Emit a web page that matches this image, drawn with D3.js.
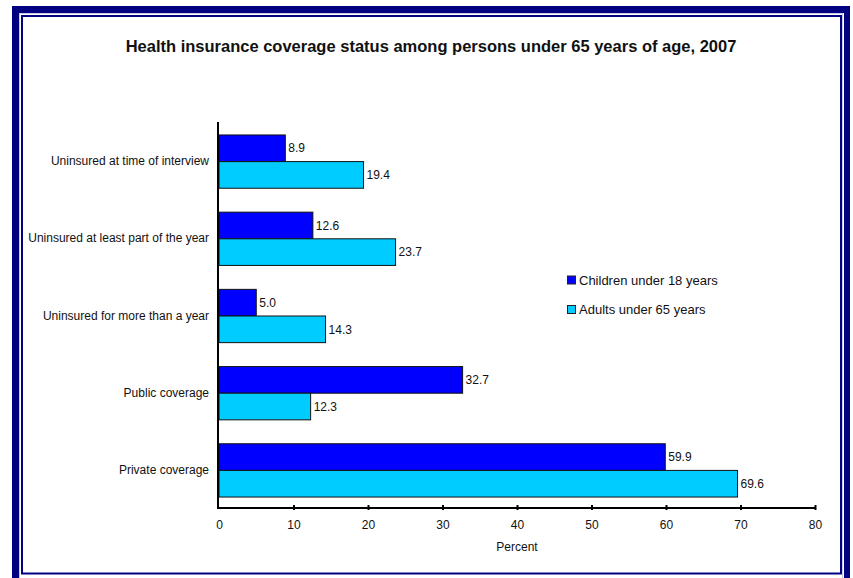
<!DOCTYPE html>
<html><head><meta charset="utf-8">
<script src="https://cdn.jsdelivr.net/npm/d3@7"></script>
<style>body{margin:0;background:#fff;} svg{display:block;font-family:Arial,"Liberation Sans",sans-serif;}</style>
</head><body>
<script>
const categories = ["Uninsured at time of interview","Uninsured at least part of the year","Uninsured for more than a year","Public coverage","Private coverage"];
const seriesNames = ["Children under 18 years","Adults under 65 years"];
const children = [8.9, 12.6, 5.0, 32.7, 59.9];
const adults = [19.4, 23.7, 14.3, 12.3, 69.6];
const xTicks = [0,10,20,30,40,50,60,70,80];
const colors = ["#0000FF","#00CCFF"];

const W=853,H=578;
const svg=d3.select("body").append("svg").attr("width",W).attr("height",H);
// frame
svg.append("rect").attr("x",12).attr("y",6).attr("width",838).attr("height",600).attr("fill","#000080");
svg.append("rect").attr("x",19).attr("y",13).attr("width",825).attr("height",580).attr("fill","#fff");
svg.append("rect").attr("x",19.5).attr("y",13.5).attr("width",823).attr("height",570).attr("fill","none").attr("stroke","#c8c8e8").attr("stroke-width",1);
svg.append("rect").attr("x",22).attr("y",16).attr("width",819).attr("height",557.5).attr("fill","none").attr("stroke","#000080").attr("stroke-width",2);

svg.append("text").attr("x",431).attr("y",52).attr("text-anchor","middle")
  .attr("font-weight","bold").attr("font-size","16.5px").attr("fill","#111")
  .text("Health insurance coverage status among persons under 65 years of age, 2007");

const x=d3.scaleLinear().domain([0,80]).range([219,815]);
const y=d3.scaleBand().domain(categories).range([123,509]).paddingInner(0.31).paddingOuter(0.155);
const data=[children,adults];

const g=svg.append("g");
categories.forEach((c,i)=>{
  const bh=y.bandwidth()/2;
  data.forEach((s,j)=>{
    const yy=y(c)+j*bh;
    g.append("rect").attr("x",x(0)).attr("y",yy).attr("width",x(s[i])-x(0)).attr("height",bh)
      .attr("fill",colors[j]).attr("stroke","#111").attr("stroke-width",1);
    g.append("text").attr("x",x(s[i])+3).attr("y",yy+bh/2).attr("dy","0.35em")
      .attr("font-size","12px").attr("fill","#111").text(s[i].toFixed(1));
  });
  g.append("text").attr("x",209).attr("y",y(c)+y.bandwidth()/2).attr("dy","0.3em")
    .attr("text-anchor","end").attr("font-size","12px").attr("fill","#111").text(c);
});

// axes
svg.append("line").attr("x1",218).attr("x2",218).attr("y1",122).attr("y2",509).attr("stroke","#000").attr("stroke-width",2);
const xa=svg.append("g").attr("transform","translate(0,508)")
  .call(d3.axisBottom(x).tickValues(xTicks).tickSize(0).tickPadding(12).tickFormat(d3.format("d")));
xa.select(".domain").attr("stroke","#000").attr("stroke-width",2).attr("d","M217,0H816");
xa.selectAll(".tick text").attr("font-size","12px").attr("fill","#111").attr("font-family","Arial,'Liberation Sans',sans-serif");
xa.selectAll(".tick").filter(d=>d>0).append("line").attr("y1",-3).attr("y2",2).attr("stroke","#000").attr("stroke-width",2);
svg.append("text").attr("x",517).attr("y",551).attr("text-anchor","middle").attr("font-size","12px").attr("fill","#111").text("Percent");

// legend
seriesNames.forEach((n,j)=>{
  const ly=276+j*29.5;
  svg.append("rect").attr("x",567.5).attr("y",ly).attr("width",8).attr("height",8).attr("fill",colors[j]).attr("stroke","#222").attr("stroke-width",1);
  svg.append("text").attr("x",579).attr("y",ly+4).attr("dy","0.35em").attr("font-size","13px").attr("fill","#111").text(n);
});
</script>
</body></html>
